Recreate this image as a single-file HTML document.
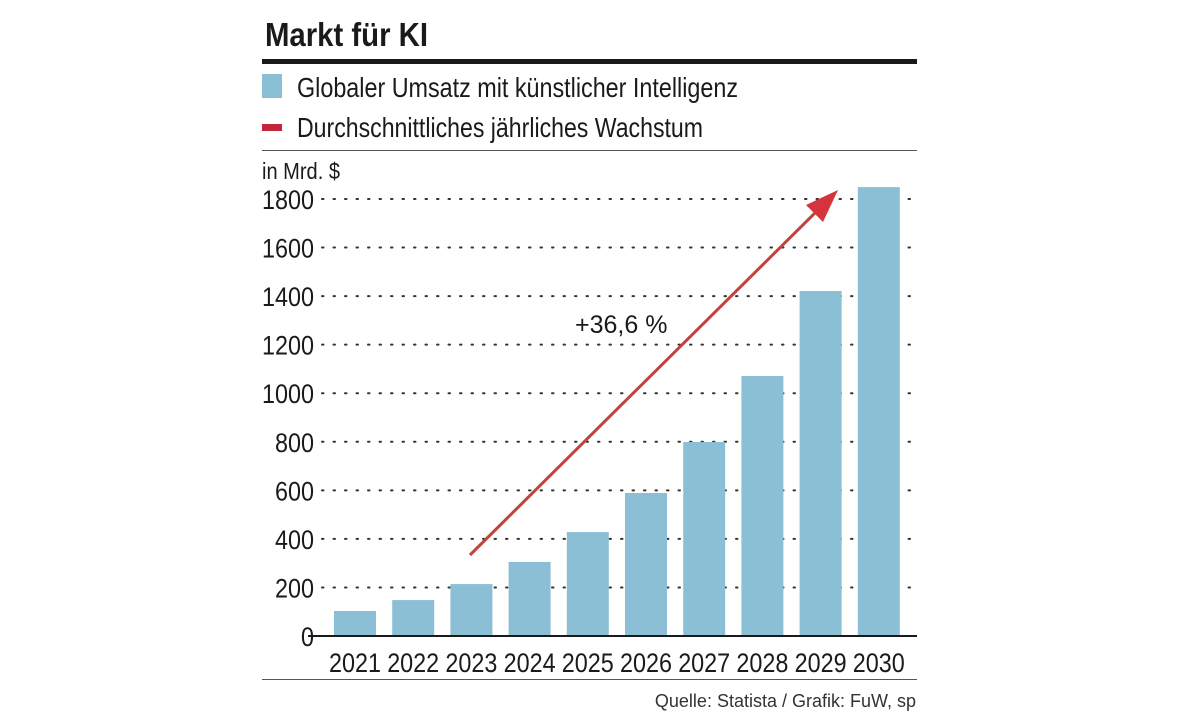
<!DOCTYPE html>
<html><head><meta charset="utf-8"><style>
body{margin:0;background:#fff;}
svg{display:block;font-family:"Liberation Sans",sans-serif;}
</style></head><body>
<svg id="chart" width="1179" height="713" viewBox="0 0 1179 713">
<text x="265" y="46" font-size="33" font-weight="bold" fill="#1a1a1a" textLength="163" lengthAdjust="spacingAndGlyphs">Markt für KI</text>
<rect x="262" y="59" width="655" height="5" fill="#1a1a1a"/>
<g>
<rect x="262" y="74" width="20" height="24" fill="#8bbfd6"/>
<text x="297" y="97" font-size="28" fill="#1a1a1a" textLength="441" lengthAdjust="spacingAndGlyphs">Globaler Umsatz mit künstlicher Intelligenz</text>
<rect x="262" y="124" width="20" height="7" fill="#c4243c"/>
<text x="297" y="137" font-size="28" fill="#1a1a1a" textLength="406" lengthAdjust="spacingAndGlyphs">Durchschnittliches jährliches Wachstum</text>
</g>
<rect x="262" y="150" width="655" height="1" fill="#555"/>
<text x="262" y="179" font-size="23" fill="#1a1a1a" textLength="78" lengthAdjust="spacingAndGlyphs">in Mrd. $</text>
<g id="grid"></g><g id="bars"></g><g id="ylabels"></g><g id="xlabels"></g>
<rect x="308" y="635" width="609" height="2" fill="#1a1a1a"/>
<line x1="470" y1="555" x2="822" y2="206" stroke="#c0443e" stroke-width="3"/>
<polygon points="838,190 806,205 823,222" fill="#d6343c"/>
<text x="575" y="333" font-size="25" fill="#1a1a1a">+36,6 %</text>
<rect x="262" y="679" width="655" height="1" fill="#555"/>
<text x="916" y="707" font-size="18" fill="#333" text-anchor="end">Quelle: Statista / Grafik: FuW, sp</text>
</svg>
<script>
const years=["2021","2022","2023","2024","2025","2026","2027","2028","2029","2030"];
const revenue=[103,148,214,305,428,589,799,1071,1421,1849];
const yTicks=[0,200,400,600,800,1000,1200,1400,1600,1800];
const NS="http://www.w3.org/2000/svg";
const y=v=>636-v*(437/1800);
const x=i=>355+i*58.2;
function mk(t,a){const e=document.createElementNS(NS,t);for(const k in a)e.setAttribute(k,a[k]);return e;}
const grid=document.getElementById('grid'),bars=document.getElementById('bars'),yl=document.getElementById('ylabels'),xl=document.getElementById('xlabels');
yTicks.forEach(t=>{
 if(t>0){const g=mk('line',{x1:322,x2:917,y1:y(t),y2:y(t),stroke:'#333','stroke-width':2,'stroke-dasharray':'1.5 10','stroke-linecap':'round'});
 
 
 grid.appendChild(g);}
 const s=String(t);
 const l=mk('text',{x:314-13*s.length,y:y(t)+10,'font-size':27,fill:'#1a1a1a',textLength:13*s.length,lengthAdjust:'spacingAndGlyphs'});l.textContent=s;
 
 
 yl.appendChild(l);
});
years.forEach((yr,i)=>{
 const b=mk('rect',{x:x(i)-21,y:y(revenue[i]),width:42,height:636-y(revenue[i]),fill:'#8bbfd6'});
 
 
 bars.appendChild(b);
 const l=mk('text',{x:x(i)-26,y:672,'font-size':27,fill:'#1a1a1a',textLength:52,lengthAdjust:'spacingAndGlyphs'});l.textContent=yr;
 
 
 xl.appendChild(l);
});
</script>
</body></html>
